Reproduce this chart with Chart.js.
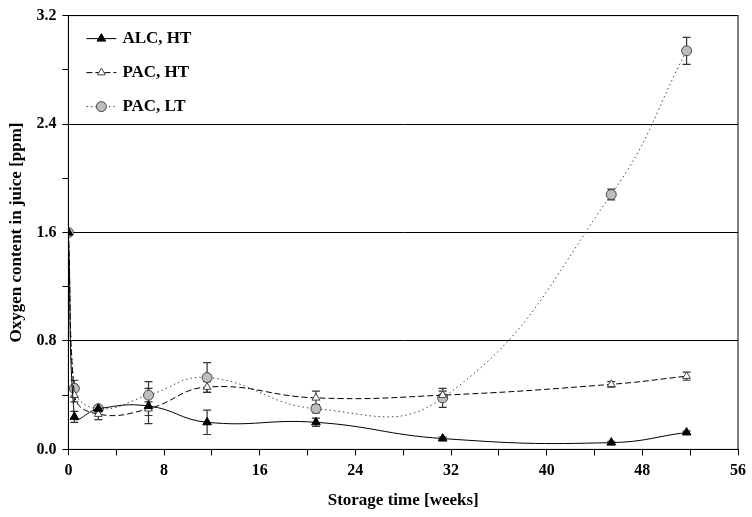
<!DOCTYPE html>
<html>
<head>
<meta charset="utf-8">
<script src="https://cdn.jsdelivr.net/npm/chart.js@4/dist/chart.umd.min.js"></script>
<style>
  html, body { margin: 0; padding: 0; background: #fff; }
  #wrap { width: 752px; height: 517px; }
</style>
</head>
<body>
<div id="wrap"><canvas id="oxygenChart" width="752" height="517"></canvas></div>
<script>
// Storage time [weeks]
const weeks = [0, 0.5, 2.5, 6.7, 11.6, 20.7, 31.3, 45.4, 51.7];

// Oxygen content [ppm]
const alcHT = [1.6, 0.24, 0.30, 0.32, 0.20, 0.20, 0.08, 0.05, 0.125];
const pacHT = [1.6, 0.40, 0.26, 0.30, 0.46, 0.38, 0.40, 0.48, 0.54];
const pacLT = [1.6, 0.45, 0.30, 0.40, 0.53, 0.30, 0.38, 1.88, 2.94];

// Standard deviations
const alcHTErr = [0, 0.04, 0.02, 0.13, 0.09, 0.03, 0.01, 0.01, 0.01];
const pacHTErr = [0, 0.05, 0.04, 0.05, 0.04, 0.05, 0.03, 0.02, 0.03];
const pacLTErr = [0, 0.06, 0.02, 0.10, 0.11, 0.03, 0.07, 0.04, 0.10];

const seriesNames = ['ALC, HT', 'PAC, HT', 'PAC, LT'];

const FONT = '"Liberation Serif", "Times New Roman", serif';

function toPoints(ys, errs) {
    return weeks.map((x, i) => ({ x: x, y: ys[i], err: errs[i] }));
}

function isMajor(v, step) {
    const r = v / step;
    return Math.abs(r - Math.round(r)) < 1e-6;
}

// Draws the error bars through the chart's scales
const errorBars = {
    id: 'errorBars',
    beforeDatasetsDraw(chart) {
        const ctx = chart.ctx;
        const ys = chart.scales.y;
        chart.data.datasets.forEach((ds, di) => {
            const meta = chart.getDatasetMeta(di);
            ds.data.forEach((p, i) => {
                if (!p.err) return;
                const px = meta.data[i].x;
                const top = ys.getPixelForValue(p.y + p.err);
                const bot = ys.getPixelForValue(p.y - p.err);
                ctx.save();
                ctx.strokeStyle = '#333';
                ctx.lineWidth = 1.2;
                ctx.beginPath();
                ctx.moveTo(px, top); ctx.lineTo(px, bot);
                ctx.moveTo(px - 4, top); ctx.lineTo(px + 4, top);
                ctx.moveTo(px - 4, bot); ctx.lineTo(px + 4, bot);
                ctx.stroke();
                ctx.restore();
            });
        });
    }
};

// Legend inside the plot, top left, with line samples
const insideLegend = {
    id: 'insideLegend',
    afterDraw(chart) {
        const ctx = chart.ctx;
        const area = chart.chartArea;
        ctx.save();
        chart.data.datasets.forEach((ds, i) => {
            const y = area.top + 23 + i * 34;
            const x0 = area.left + 18;
            ctx.strokeStyle = ds.borderColor;
            ctx.lineWidth = 1;
            ctx.setLineDash(ds.borderDash || []);
            ctx.beginPath();
            ctx.moveTo(x0, y); ctx.lineTo(x0 + 30, y);
            ctx.stroke();
            ctx.setLineDash([]);
            ctx.fillStyle = ds.pointBackgroundColor;
            ctx.strokeStyle = ds.pointBorderColor;
            Chart.helpers.drawPoint(ctx, {
                pointStyle: ds.pointStyle,
                radius: ds.pointRadius,
                borderWidth: 1
            }, x0 + 15, y);
            ctx.fillStyle = '#000';
            ctx.font = 'bold 17px ' + FONT;
            ctx.textBaseline = 'middle';
            ctx.fillText(ds.label, x0 + 36, y);
        });
        ctx.restore();
    }
};

const chartBorder = {
    id: 'chartBorder',
    afterDatasetsDraw(chart) {
        const a = chart.chartArea;
        const ctx = chart.ctx;
        ctx.save();
        ctx.strokeStyle = '#000';
        ctx.lineWidth = 1;
        ctx.strokeRect(a.left, a.top, a.right - a.left, a.bottom - a.top);
        ctx.restore();
    }
};

new Chart(document.getElementById('oxygenChart').getContext('2d'), {
    type: 'scatter',
    data: {
        datasets: [
            {
                label: seriesNames[0],
                data: toPoints(alcHT, alcHTErr),
                showLine: true,
                borderColor: '#000',
                borderWidth: 1,
                tension: 0.45,
                pointStyle: 'triangle',
                pointRadius: 5,
                pointBackgroundColor: '#000',
                pointBorderColor: '#000',
                pointBorderWidth: 1
            },
            {
                label: seriesNames[1],
                data: toPoints(pacHT, pacHTErr),
                showLine: true,
                borderColor: '#000',
                borderWidth: 1,
                borderDash: [6, 3],
                tension: 0.45,
                pointStyle: 'triangle',
                pointRadius: 4.5,
                pointBackgroundColor: '#fff',
                pointBorderColor: '#444',
                pointBorderWidth: 1
            },
            {
                label: seriesNames[2],
                data: toPoints(pacLT, pacLTErr),
                showLine: true,
                borderColor: '#444',
                borderWidth: 1,
                borderDash: [1.5, 3],
                tension: 0.45,
                pointStyle: 'circle',
                pointRadius: 5,
                pointBackgroundColor: '#bdbdbd',
                pointBorderColor: '#444',
                pointBorderWidth: 1
            }
        ]
    },
    options: {
        responsive: false,
        animation: false,
        layout: { padding: { top: -2, right: -2, left: 2, bottom: 2 } },
        plugins: {
            legend: { display: false },
            tooltip: { enabled: false }
        },
        scales: {
            x: {
                type: 'linear',
                min: 0,
                max: 56,
                ticks: {
                    stepSize: 4,
                    color: '#000',
                    font: { family: FONT, size: 16, weight: 'bold' },
                    padding: 6,
                    maxRotation: 0,
                    autoSkip: false,
                    callback: v => isMajor(v, 8) ? String(v) : ''
                },
                grid: {
                    drawOnChartArea: false,
                    tickColor: '#000',
                    tickLength: 6
                },
                border: { color: '#000' },
                title: {
                    display: true,
                    text: 'Storage time [weeks]',
                    color: '#000',
                    font: { family: FONT, size: 17, weight: 'bold' },
                    padding: { top: 4 }
                }
            },
            y: {
                min: 0,
                max: 3.2,
                ticks: {
                    stepSize: 0.4,
                    color: '#000',
                    font: { family: FONT, size: 16, weight: 'bold' },
                    padding: 6,
                    autoSkip: false,
                    callback: v => isMajor(v, 0.8) ? v.toFixed(1) : ''
                },
                grid: {
                    color: c => (c.tick && isMajor(c.tick.value, 0.8)) ? '#000' : 'rgba(0,0,0,0)',
                    tickColor: '#000',
                    tickLength: 6
                },
                border: { color: '#000' },
                title: {
                    display: true,
                    text: 'Oxygen content in juice [ppm]',
                    color: '#000',
                    font: { family: FONT, size: 17, weight: 'bold' },
                    padding: { bottom: 4 }
                }
            }
        }
    },
    plugins: [errorBars, chartBorder, insideLegend]
});
</script>
</body>
</html>
